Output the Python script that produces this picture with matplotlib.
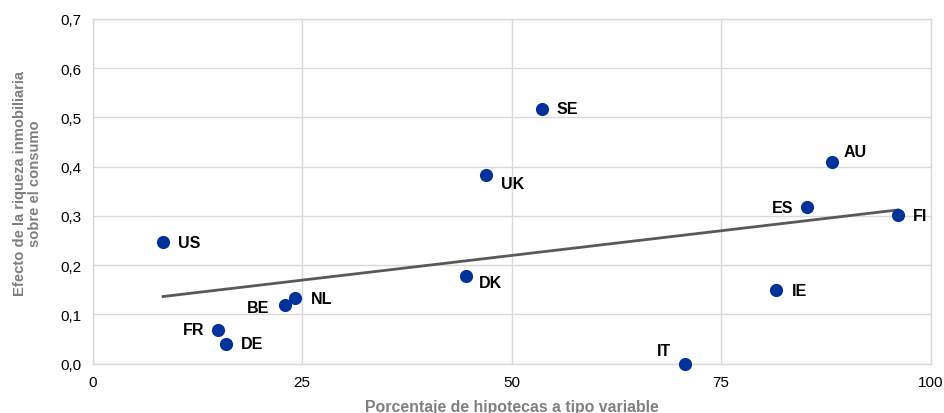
import numpy as np
import matplotlib
matplotlib.use("Agg")
import matplotlib.pyplot as plt
from matplotlib.ticker import FuncFormatter

plt.rcParams['font.family'] = ['Liberation Sans', 'DejaVu Sans']

countries = ["US", "FR", "DE", "BE", "NL", "DK", "UK", "SE", "IT", "IE", "ES", "AU", "FI"]
variable_rate_share = [8.4, 15.0, 15.9, 23.0, 24.2, 44.6, 47.0, 53.6, 70.7, 81.6, 85.3, 88.2, 96.1]
wealth_effect = [0.247, 0.068, 0.040, 0.120, 0.133, 0.178, 0.384, 0.518, 0.0, 0.149, 0.318, 0.409, 0.301]

# label offsets in pixels (dx, dy) and horizontal alignment
label_offsets = {
    "US": (15, 0, "left"), "FR": (-14, 1, "right"), "DE": (15, 0, "left"),
    "BE": (-16, -3, "right"), "NL": (15, 0, "left"), "DK": (12, -6, "left"),
    "UK": (15, -9, "left"), "SE": (15, 0, "left"), "IT": (-14, 13, "right"),
    "IE": (15, 0, "left"), "ES": (-14, 0, "right"), "AU": (12, 11, "left"),
    "FI": (15, 0, "left"),
}

x_ticks = [0, 25, 50, 75, 100]
y_ticks = [0.0, 0.1, 0.2, 0.3, 0.4, 0.5, 0.6, 0.7]

fig = plt.figure(figsize=(9.45, 4.14), dpi=100)
ax = fig.add_axes([0.0981, 0.1191, 0.8866, 0.8326])

grid_color = "#d9d9d9"
ax.set_xlim(0, 100)
ax.set_ylim(0, 0.7)
ax.set_xticks(x_ticks)
ax.set_yticks(y_ticks)
ax.grid(True, color=grid_color, linewidth=1.0)
ax.set_axisbelow(True)
for side in ["left", "bottom", "top", "right"]:
    ax.spines[side].set_color(grid_color)
    ax.spines[side].set_linewidth(1.0)
ax.tick_params(length=0, labelsize=11, colors="#000000", pad=8)
ax.yaxis.set_major_formatter(FuncFormatter(lambda v, p: f"{v:.1f}".replace(".", ",")))
ax.xaxis.set_major_formatter(FuncFormatter(lambda v, p: f"{v:.0f}"))

# linear trend fitted to the points
xs = np.array(variable_rate_share)
ys = np.array(wealth_effect)
slope, intercept = np.polyfit(xs, ys, 1)
xline = np.array([xs.min(), xs.max()])
ax.plot(xline, slope * xline + intercept, color="#595959", linewidth=2.0, zorder=2)

ax.scatter(xs, ys, s=90, color="#003299", zorder=3, clip_on=False, linewidths=0)

for c, x, y in zip(countries, variable_rate_share, wealth_effect):
    dx, dy, ha = label_offsets[c]
    ax.annotate(c, (x, y), xytext=(dx, dy), textcoords="offset pixels",
                ha=ha, va="center", fontsize=11.5, fontweight="bold", color="#000000")

ax.set_xlabel("Porcentaje de hipotecas a tipo variable", fontsize=11.4,
              fontweight="bold", color="#7f7f7f", labelpad=7)
ax.set_ylabel("Efecto de la riqueza inmobiliaria\nsobre el consumo", fontsize=10.6,
              fontweight="bold", color="#7f7f7f", linespacing=1.1)
ax.yaxis.set_label_coords(-0.0605, 0.526)

fig.savefig("out.png", dpi=100)
